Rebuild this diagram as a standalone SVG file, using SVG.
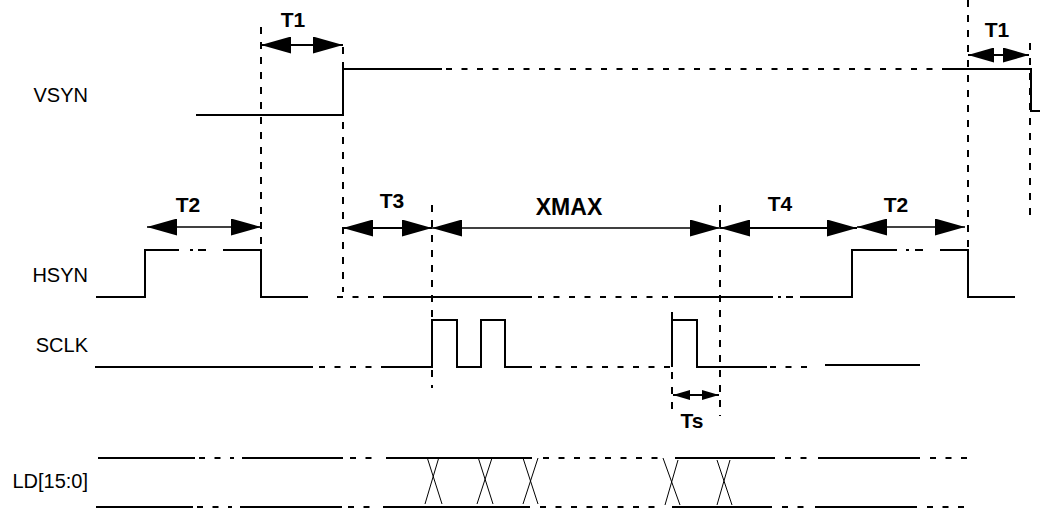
<svg xmlns="http://www.w3.org/2000/svg" width="1053" height="511" viewBox="0 0 1053 511">
<defs>
<style>
.bg{fill:#fff}
.s{fill:none;stroke:#000;stroke-width:2}
.d{fill:none;stroke:#000;stroke-width:2;stroke-dasharray:6 9.5}
.g{fill:none;stroke:#000;stroke-width:2;stroke-dasharray:7 8}
.x{fill:none;stroke:#000;stroke-width:1}
.a2{fill:none;stroke:#000;stroke-width:2}
.a1{fill:none;stroke:#000;stroke-width:1.5}
.lab{font-family:"Liberation Sans",Arial,sans-serif;font-size:20px;fill:#000}
.tl{font-family:"Liberation Sans",Arial,sans-serif;font-size:21px;font-weight:bold;fill:#000;text-anchor:middle}
</style>
<marker id="big" markerUnits="userSpaceOnUse" markerWidth="30" markerHeight="17" refX="30" refY="8.5" orient="auto-start-reverse" viewBox="0 0 30 17">
<path d="M0,0 L30,8.5 L0,17 Z" fill="#000"/>
</marker>
<marker id="mid" markerUnits="userSpaceOnUse" markerWidth="26" markerHeight="15" refX="26" refY="7.5" orient="auto-start-reverse" viewBox="0 0 26 15">
<path d="M0,0 L26,7.5 L0,15 Z" fill="#000"/>
</marker>
<marker id="sm" markerUnits="userSpaceOnUse" markerWidth="17" markerHeight="10" refX="17" refY="5" orient="auto-start-reverse" viewBox="0 0 17 10">
<path d="M0,0 L17,5 L0,10 Z" fill="#000"/>
</marker>
</defs>
<rect class="bg" x="0" y="0" width="1053" height="511"/>

<g id="labels">
<text class="lab" x="88" y="102" text-anchor="end">VSYN</text>
<text class="lab" x="88" y="282" text-anchor="end">HSYN</text>
<text class="lab" x="88" y="352" text-anchor="end">SCLK</text>
<text class="lab" x="88" y="488" text-anchor="end">LD[15:0]</text>
</g>

<g id="guides">
<line class="g" x1="261" y1="27" x2="261" y2="250"/>
<line class="g" x1="343" y1="47" x2="343" y2="292"/>
<line class="g" x1="432" y1="205" x2="432" y2="388"/>
<line class="g" x1="720" y1="205" x2="720" y2="416"/>
<line class="g" x1="672" y1="312" x2="672" y2="416"/>
<line class="g" x1="968" y1="0" x2="968" y2="250"/>
<line class="g" x1="1030" y1="43" x2="1030" y2="223"/>
</g>

<g id="VSYN">
<polyline class="s" points="196,115 343,115 343,69 442,69"/>
<line class="d" x1="446" y1="69" x2="942" y2="69"/>
<polyline class="s" points="942,69 1031,69 1031,111 1040,111"/>
</g>

<g id="HSYN">
<polyline class="s" points="96,297 145,297 145,250 179,250"/>
<line class="s" x1="190" y1="250" x2="193" y2="250"/>
<line class="s" x1="198" y1="250" x2="206" y2="250"/>
<polyline class="s" points="223,250 261,250 261,297 308,297"/>
<line class="d" x1="337" y1="297" x2="376" y2="297"/>
<line class="s" x1="383" y1="297" x2="532" y2="297"/>
<line class="d" x1="538" y1="297" x2="674" y2="297"/>
<line class="s" x1="674" y1="297" x2="773" y2="297"/>
<line class="s" x1="778" y1="297" x2="781" y2="297"/>
<line class="s" x1="786" y1="297" x2="793" y2="297"/>
<polyline class="s" points="800,297 852,297 852,250 897,250"/>
<line class="s" x1="906" y1="250" x2="909" y2="250"/>
<line class="s" x1="915" y1="250" x2="923" y2="250"/>
<polyline class="s" points="940,250 968,250 968,297 1015,297"/>
</g>

<g id="SCLK">
<line class="s" x1="95" y1="367" x2="313" y2="367"/>
<line class="d" x1="319" y1="367" x2="385" y2="367"/>
<polyline class="s" points="385,367 432,367 432,320 457,320 457,367 481,367 481,320 505,320 505,367 532,367"/>
<line class="d" x1="540" y1="367" x2="672" y2="367"/>
<polyline class="s" points="672,367 672,320 697,320 697,367 767,367"/>
<line class="d" x1="770" y1="367" x2="815" y2="367"/>
<line class="s" x1="825" y1="365" x2="920" y2="365"/>
</g>

<g id="LD">
<line class="s" x1="98" y1="458" x2="195" y2="458"/>
<line class="d" x1="199" y1="458" x2="234" y2="458"/>
<line class="s" x1="242" y1="458" x2="343" y2="458"/>
<line class="d" x1="350" y1="458" x2="378" y2="458"/>
<line class="s" x1="386" y1="458" x2="532" y2="458"/>
<line class="d" x1="543" y1="458" x2="665" y2="458"/>
<line class="s" x1="675" y1="458" x2="775" y2="458"/>
<line class="d" x1="785" y1="458" x2="810" y2="458"/>
<line class="s" x1="818" y1="458" x2="920" y2="458"/>
<line class="d" x1="930" y1="458" x2="968" y2="458"/>
<line class="s" x1="96" y1="507" x2="193" y2="507"/>
<line class="d" x1="197" y1="507" x2="232" y2="507"/>
<line class="s" x1="240" y1="507" x2="342" y2="507"/>
<line class="d" x1="348" y1="507" x2="376" y2="507"/>
<line class="s" x1="383" y1="507" x2="530" y2="507"/>
<line class="d" x1="540" y1="507" x2="662" y2="507"/>
<line class="s" x1="672" y1="507" x2="772" y2="507"/>
<line class="d" x1="782" y1="507" x2="807" y2="507"/>
<line class="s" x1="815" y1="507" x2="917" y2="507"/>
<line class="d" x1="927" y1="507" x2="965" y2="507"/>
<path class="x" d="M427,457 L442,504 M439,457 L425,504"/>
<path class="x" d="M478,457 L493,504 M492,458 L477,504"/>
<path class="x" d="M523,458 L538,504 M538,458 L523,504"/>
<path class="x" d="M663,458 L680,505 M678,460 L665,505"/>
<path class="x" d="M717,460 L732,505 M730,460 L717,505"/>
</g>

<g id="connectors">
<line class="a2" x1="261" y1="45" x2="343" y2="45" marker-start="url(#big)" marker-end="url(#big)"/>
<line class="a2" x1="968" y1="55" x2="1029" y2="55" marker-start="url(#mid)" marker-end="url(#mid)"/>
<line class="a1" x1="147" y1="227" x2="261" y2="227" marker-start="url(#big)" marker-end="url(#big)"/>
<line class="a2" x1="343" y1="228" x2="432" y2="228" marker-start="url(#big)" marker-end="url(#big)"/>
<line class="a1" x1="432" y1="228" x2="720" y2="228" marker-start="url(#big)" marker-end="url(#big)"/>
<line class="a2" x1="720" y1="228" x2="857" y2="228" marker-start="url(#big)" marker-end="url(#big)"/>
<line class="a1" x1="857" y1="227" x2="965" y2="227" marker-start="url(#big)" marker-end="url(#big)"/>
<line class="a2" x1="673" y1="395" x2="719" y2="395" marker-start="url(#sm)" marker-end="url(#sm)"/>
</g>

<g id="timing-labels">
<text class="tl" x="293" y="27">T1</text>
<text class="tl" x="997" y="37">T1</text>
<text class="tl" x="188" y="212">T2</text>
<text class="tl" x="392" y="208">T3</text>
<text class="tl" x="569" y="215" style="font-size:23px">XMAX</text>
<text class="tl" x="780" y="211">T4</text>
<text class="tl" x="896" y="212">T2</text>
<text class="tl" x="692" y="428">Ts</text>
</g>
</svg>
